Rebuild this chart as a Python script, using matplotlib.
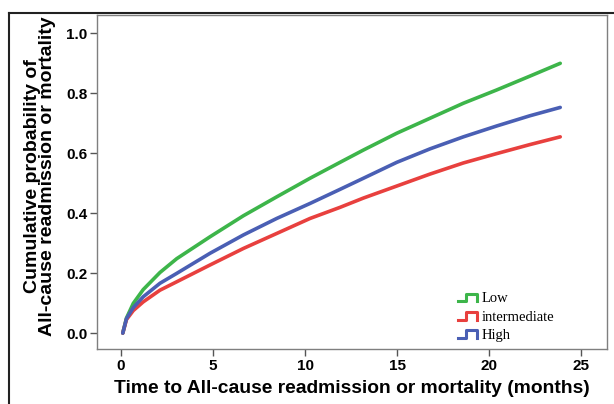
import matplotlib
matplotlib.use("Agg")
import matplotlib.pyplot as plt
from matplotlib.lines import Line2D
from matplotlib.legend_handler import HandlerBase
import numpy as np

# ---- data ----
months_low = [0.1, 0.3, 0.67, 1.21, 2.12, 3.03, 4.84, 6.65, 8.46, 10.27, 11.9,
              13.17, 14.98, 16.79, 18.6, 20.4, 22.2, 23.86]
risk_low = [0.0, 0.05, 0.099, 0.145, 0.202, 0.248, 0.321, 0.391, 0.454, 0.516, 0.569,
            0.61, 0.666, 0.716, 0.766, 0.81, 0.856, 0.899]

months_int = [0.1, 0.3, 0.67, 1.21, 2.12, 3.03, 4.84, 6.65, 8.46, 10.27, 11.9,
              13.17, 14.98, 16.79, 18.6, 20.4, 22.2, 23.86]
risk_int = [0.0, 0.045, 0.075, 0.104, 0.143, 0.171, 0.227, 0.282, 0.332, 0.382, 0.419,
            0.45, 0.49, 0.53, 0.567, 0.598, 0.628, 0.654]

months_high = [0.1, 0.3, 0.67, 1.21, 2.12, 3.03, 4.84, 6.65, 8.46, 10.27, 11.9,
               13.17, 14.98, 16.79, 18.6, 20.4, 22.2, 23.86]
risk_high = [0.0, 0.048, 0.085, 0.121, 0.166, 0.199, 0.266, 0.327, 0.382, 0.432, 0.479,
             0.516, 0.569, 0.614, 0.654, 0.69, 0.724, 0.752]

group_labels = ["Low", "intermediate", "High"]
group_colors = ["#3db54a", "#e8403e", "#4a5fb4"]

x_ticks = [0, 5, 10, 15, 20, 25]
y_ticks = [0.0, 0.2, 0.4, 0.6, 0.8, 1.0]

fig = plt.figure(figsize=(6.14, 4.04), dpi=100)
ax = fig.add_axes([97 / 614, 1 - 349 / 404, (607 - 97) / 614, (349 - 15) / 404])

series = [(months_low, risk_low), (months_int, risk_int), (months_high, risk_high)]
for (xs, ys), lab, col in zip(series, group_labels, group_colors):
    ax.plot(xs, ys, color=col, lw=2.6, label=lab, solid_capstyle="round",
            solid_joinstyle="round")

ax.set_xlim(-1.3, 26.4)
ax.set_ylim(-0.053, 1.06)
ax.set_xticks(x_ticks)
ax.set_xticklabels([str(v) for v in x_ticks])
ax.set_yticks(y_ticks)
ax.set_yticklabels([f"{v:.1f}" for v in y_ticks])

for s in ax.spines.values():
    s.set_color("#7f7f7f")
    s.set_linewidth(1.0)
ax.tick_params(direction="out", length=5, width=1.0, color="#555555",
               labelsize=11, pad=2)
for t in ax.get_xticklabels() + ax.get_yticklabels():
    t.set_fontfamily("Liberation Sans")
    t.set_fontweight("bold")

ax.set_xlabel("Time to All-cause readmission or mortality (months)",
              fontfamily="Liberation Sans", fontweight="bold", fontsize=13.9, labelpad=5)
fig.text(40 / 614, 1 - 176 / 404,
         "Cumulative probability of\nAll-cause readmission or mortality",
         rotation=90, ha="center", va="center", multialignment="center",
         fontfamily="Liberation Sans", fontweight="bold", fontsize=14,
         linespacing=0.92)


class StepHandler(HandlerBase):
    def create_artists(self, legend, orig_handle, xdescent, ydescent, width,
                       height, fontsize, trans):
        x0 = -xdescent
        w = width
        h = height
        y0 = -ydescent
        xs = [x0, x0 + 0.35 * w, x0 + 0.35 * w, x0 + 0.85 * w, x0 + 0.85 * w]
        ys = [y0 + 0.1 * h, y0 + 0.1 * h, y0 + 0.85 * h, y0 + 0.85 * h, y0 + 0.1 * h]
        ln = Line2D(xs, ys, color=orig_handle.get_color(), lw=2.2, transform=trans)
        return [ln]


handles, labels = ax.get_legend_handles_labels()
leg = ax.legend(handles, labels, handler_map={Line2D: StepHandler()},
                loc="upper left", bbox_to_anchor=((458 - 97) / 510, 1 - (292 - 15) / 334),
                frameon=False, prop={"family": "Liberation Serif", "size": 10.5},
                handlelength=1.5, handletextpad=0.15, labelspacing=0.35,
                borderpad=0, borderaxespad=0)

# outer figure frame (top and left lines)
fig.add_artist(Line2D([9 / 614, 1.0], [1 - 13 / 404, 1 - 13 / 404],
                      transform=fig.transFigure, color="#222222", lw=1.5))
fig.add_artist(Line2D([9 / 614, 9 / 614], [0.0, 1 - 13 / 404],
                      transform=fig.transFigure, color="#222222", lw=1.5))

fig.savefig("out.png", dpi=100)
